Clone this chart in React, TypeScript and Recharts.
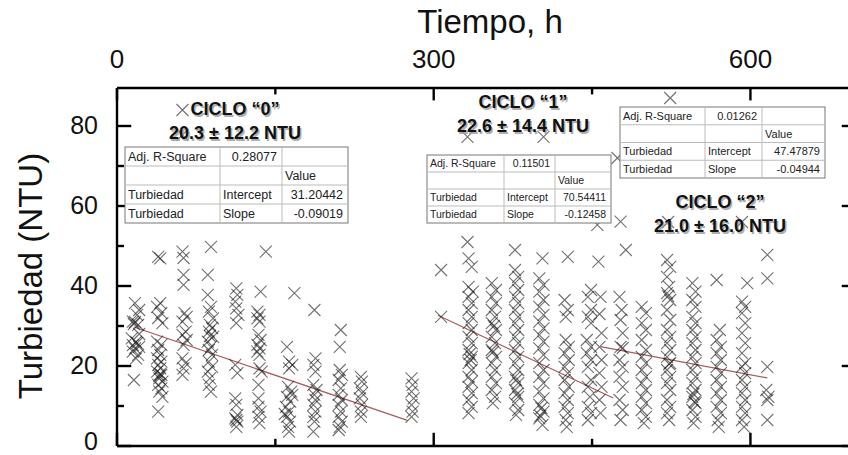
import { ScatterChart, Scatter, XAxis, YAxis, ReferenceLine } from "recharts";

type Pt = [number, number];

// Turbiedad (NTU) vs tiempo (h)
const cycle0: Pt[] = [
  [17, 35.7], [21, 34.0], [19, 32.8], [15, 31.1], [17, 31.0], [16, 30.5], [20, 30.3], [21, 28.0], [14, 26.9], [18, 26.0],
  [19, 25.7], [15, 25.2], [21, 24.8], [17, 24.4], [15, 23.6], [20, 22.8], [18, 21.9], [16, 16.5],
  [39, 47.3], [41, 46.9], [41, 35.7], [38, 34.8], [42, 33.2], [39, 32.0], [43, 30.7], [38, 26.1], [42, 25.3], [39, 24.0],
  [41, 22.8], [38, 21.9], [42, 21.1], [39, 20.3], [41, 19.4], [38, 18.6], [41, 18.0], [42, 17.8], [40, 17.5], [40, 16.9],
  [43, 16.1], [39, 15.3], [42, 14.4], [40, 13.6], [43, 12.3], [39, 8.6],
  [62, 84.0], [62, 77.8],
  [62, 48.6], [63, 47.0], [63, 42.8], [63, 40.3], [64, 33.2], [66, 32.3], [62, 31.1], [65, 28.6], [62, 27.8], [66, 26.5],
  [63, 25.3], [62, 21.9], [65, 20.7], [63, 19.4], [62, 17.8],
  [89, 49.8], [86, 42.8], [86, 37.8], [89, 34.8], [87, 33.6], [91, 31.9], [88, 30.3], [90, 29.5], [87, 28.6], [88, 27.5],
  [91, 27.3], [86, 26.1], [89, 24.8], [87, 24.0], [90, 22.8], [87, 21.1], [90, 19.8], [86, 18.6], [88, 16.9], [87, 15.3],
  [89, 13.6],
  [113, 39.4], [114, 37.8], [112, 36.1], [113, 34.4], [115, 32.8], [113, 30.7], [112, 20.3], [114, 18.2], [112, 11.9],
  [113, 10.3], [114, 7.8], [112, 6.9], [113, 6.5], [114, 6.1], [113, 4.8],
  [141, 48.6], [136, 38.6], [133, 33.6], [135, 32.8], [133, 31.9], [135, 31.1], [134, 27.8], [136, 26.5], [133, 25.3],
  [135, 24.4], [133, 23.6], [135, 22.8], [135, 19.4], [137, 18.6], [134, 15.3], [134, 11.9], [134, 9.8], [136, 8.6],
  [134, 7.3], [135, 5.7],
  [168, 38.2], [161, 24.8], [163, 21.1], [166, 20.3], [163, 19.4], [162, 14.8], [165, 13.6], [166, 12.8], [161, 12.3],
  [164, 11.1], [160, 9.8], [163, 8.6], [159, 8.0], [161, 7.3], [164, 6.1], [162, 4.8], [163, 3.6],
  [187, 34.0], [188, 21.9], [186, 20.3], [188, 18.6], [186, 15.3], [189, 14.0], [187, 12.8], [188, 11.5], [186, 10.3],
  [188, 8.6], [186, 7.3], [187, 6.1], [186, 3.6],
  [212, 29.0], [211, 24.8], [211, 19.0], [213, 17.8], [210, 16.5], [212, 14.4], [210, 12.8], [213, 11.5], [210, 10.3],
  [212, 8.6], [210, 7.3], [213, 6.1], [211, 4.8], [210, 4.0],
  [231, 17.3], [232, 16.1], [230, 14.4], [232, 13.2], [230, 11.9], [232, 10.3], [231, 8.6], [231, 7.3],
  [279, 16.9], [280, 15.3], [279, 13.6], [281, 11.9], [279, 10.3], [280, 8.6], [279, 7.3],
];

const cycle1: Pt[] = [
  [307, 44.0], [307, 32.3], [332, 77.3], [404, 77.3],
  [332, 51.0], [333, 46.9], [336, 44.8], [333, 39.8], [337, 38.6], [333, 37.3], [336, 35.7], [333, 34.0], [336, 32.3],
  [333, 30.7], [336, 29.0], [333, 27.3], [336, 25.7], [333, 24.0], [334, 23.0], [336, 22.3], [335, 21.5], [333, 20.7],
  [336, 19.0], [333, 17.3], [336, 16.1], [333, 14.8], [336, 13.2], [333, 11.5], [336, 9.8], [333, 8.2],
  [355, 40.7], [359, 39.0], [355, 37.3], [359, 35.7], [355, 34.0], [358, 32.3], [355, 30.7], [357, 30.0], [359, 29.0],
  [355, 27.3], [358, 25.7], [355, 24.0], [356, 23.5], [359, 22.3], [355, 20.7], [358, 19.0], [355, 17.3], [359, 15.7],
  [355, 14.0], [358, 12.3], [356, 10.7],
  [377, 49.0], [377, 44.0], [380, 42.3], [377, 40.7], [380, 39.0], [377, 37.3], [380, 35.7], [377, 34.0], [380, 32.3],
  [377, 30.7], [380, 29.0], [377, 27.3], [380, 25.7], [377, 24.0], [380, 22.3], [377, 20.7], [380, 19.0], [377, 17.3],
  [378, 16.5], [380, 15.7], [377, 14.0], [379, 13.0], [380, 12.3], [377, 10.7], [380, 9.0], [378, 7.8],
  [403, 46.9], [400, 41.9], [404, 40.3], [400, 38.6], [404, 36.5], [400, 34.8], [404, 32.8], [400, 31.1], [404, 29.4],
  [400, 27.8], [404, 26.1], [400, 24.4], [404, 22.8], [400, 20.7], [404, 19.0], [400, 17.3], [404, 15.7], [400, 13.6],
  [404, 11.9], [400, 10.3], [402, 9.5], [404, 8.6], [401, 7.5], [400, 6.9], [403, 5.3],
  [427, 47.3], [424, 36.5], [427, 34.0], [425, 32.3], [425, 26.5], [428, 24.8], [424, 23.2], [428, 21.5], [424, 19.8],
  [427, 18.2], [424, 16.5], [428, 14.8], [424, 13.2], [427, 11.5], [424, 9.8], [427, 8.2], [425, 6.5], [426, 4.8],
  [455, 55.3], [456, 46.1], [449, 39.0], [446, 37.3], [458, 37.3], [449, 34.0], [457, 33.0], [446, 32.3], [449, 30.7],
  [459, 28.2], [445, 26.5], [449, 24.8], [457, 24.8], [445, 23.2], [449, 21.5], [459, 21.5], [446, 19.8], [457, 18.2],
  [449, 16.5], [446, 14.8], [459, 14.8], [448, 12.3], [457, 11.5], [446, 9.8], [449, 8.2], [458, 8.2], [446, 6.5],
];

const cycle2: Pt[] = [
  [474, 72.0], [524, 87.0], [522, 56.0], [592, 56.0],
  [477, 56.1], [482, 49.0], [476, 37.3], [478, 34.0], [477, 31.5], [479, 28.2], [477, 24.8], [479, 24.5], [476, 21.5],
  [479, 19.8], [476, 17.3], [479, 14.8], [476, 11.5], [479, 9.0], [477, 6.5],
  [497, 34.8], [501, 33.2], [497, 30.7], [501, 29.0], [497, 26.5], [501, 24.0], [497, 22.3], [501, 20.7], [497, 19.0],
  [501, 17.3], [497, 15.7], [501, 14.0], [497, 12.3], [501, 10.7], [497, 9.0], [501, 7.3], [499, 5.7],
  [521, 46.5], [524, 44.8], [521, 42.3], [523, 39.8], [521, 38.2], [522, 37.5], [524, 36.5], [521, 34.0], [524, 31.5],
  [521, 29.0], [524, 27.3], [521, 25.7], [524, 24.0], [521, 22.3], [524, 20.7], [523, 20.5], [521, 19.0], [524, 17.3],
  [521, 15.7], [524, 14.0], [521, 11.5], [524, 9.8], [521, 8.2], [523, 6.5],
  [545, 40.7], [548, 38.6], [545, 36.5], [548, 34.8], [545, 32.3], [548, 30.7], [545, 29.0], [548, 27.3], [545, 25.7],
  [548, 24.0], [545, 22.3], [548, 20.7], [545, 19.0], [548, 17.3], [545, 15.7], [548, 14.0], [546, 13.0], [545, 12.3],
  [547, 11.0], [548, 10.7], [545, 9.0], [548, 7.3], [546, 5.7],
  [568, 41.5], [571, 29.0], [568, 26.5], [572, 24.8], [568, 23.2], [572, 21.5], [568, 19.8], [572, 18.2], [568, 16.5],
  [572, 14.8], [568, 13.2], [572, 11.5], [568, 9.8], [572, 8.2], [569, 6.5], [570, 4.8],
  [597, 40.7], [592, 36.1], [595, 34.8], [592, 33.2], [595, 30.7], [592, 28.2], [595, 25.7], [592, 23.2], [595, 20.7],
  [592, 19.8], [595, 18.2], [592, 16.5], [595, 14.8], [592, 13.2], [595, 11.5], [592, 9.8], [595, 8.2], [592, 6.5],
  [594, 4.8],
  [616, 47.8], [616, 41.9], [616, 19.8], [615, 14.0], [617, 12.3], [616, 11.5], [616, 6.5],
];

// ajustes lineales por ciclo
const fitIntercepts = [31.20442, 70.54411, 47.47879];
const fitSlopes = [-0.09019, -0.12458, -0.04944];
const fitR2 = ["0.28077", "0.11501", "0.01262"];
const fitRanges: Pt[] = [[16, 275], [304, 470], [458, 616]];

const cycleMeans = [20.3, 22.6, 21.0];
const cycleSds = [12.2, 14.4, 16.0];

const X_MAX = 700;
const Y_MAX = 89.5;
const xTicks = [0, 150, 300, 450, 600];
const xLabels = [0, 300, 600];
const yTicks = [0, 10, 20, 30, 40, 50, 60, 70, 80];
const yLabels = [0, 20, 40, 60, 80];

const FONT = '"Liberation Sans", Arial, Helvetica, sans-serif';
const cycles = [cycle0, cycle1, cycle2].map((c) => c.map(([x, y]) => ({ x, y })));

// marcas de eje hacia dentro, en unidades de datos (4 px por NTU, ~1.056 px por h)
const xTickLen = (v: number) => (xLabels.includes(v) ? 3.1 : 1.6);
const yTickLen = (v: number) => (yLabels.includes(v) ? 13.5 : 6.6);

const frame = { xAxisId: "top", yAxisId: "left", stroke: "#000", strokeWidth: 2.4, ifOverflow: "visible" as const };

function XMark(props: any) {
  const cx = Number(props.cx);
  const cy = Number(props.cy);
  if (!isFinite(cx) || !isFinite(cy)) return <g />;
  const s = 6;
  return (
    <path
      d={`M${cx - s},${cy - s}L${cx + s},${cy + s}M${cx + s},${cy - s}L${cx - s},${cy + s}`}
      stroke="#1a1a1a"
      strokeOpacity={0.62}
      strokeWidth={1.1}
      fill="none"
    />
  );
}

function TopLabel(props: any) {
  const v = Number(props.payload.value);
  if (!xLabels.includes(v)) return <g />;
  return (
    <text x={Number(props.x)} y={Number(props.y) - 20} textAnchor="middle" fontSize={26} fill="#111" fontFamily={FONT}>
      {v}
    </text>
  );
}

function LeftLabel(props: any) {
  const v = Number(props.payload.value);
  if (!yLabels.includes(v)) return <g />;
  const y = Number(props.y) - (v === 0 ? 5 : 1);
  return (
    <text x={Number(props.x) - 19} y={y} dy="0.35em" textAnchor="end" fontSize={25} fill="#111" fontFamily={FONT}>
      {v}
    </text>
  );
}

function FitTable({ x, y, cols, rowH, fontSize, i }: any) {
  const rows = [
    ["Adj. R-Square", fitR2[i], ""],
    ["", "", "Value"],
    ["Turbiedad", "Intercept", fitIntercepts[i].toFixed(5)],
    ["Turbiedad", "Slope", fitSlopes[i].toFixed(5)],
  ];
  const w = cols[0] + cols[1] + cols[2];
  const h = rowH * 4;
  const cx = [x, x + cols[0], x + cols[0] + cols[1], x + w];
  return (
    <g fontFamily={FONT} fontSize={fontSize} fill="#222">
      <rect x={x} y={y} width={w} height={h} fill="#fff" stroke="#777" strokeWidth={1} />
      {[1, 2, 3].map((r) => (
        <line key={r} x1={x} x2={x + w} y1={y + r * rowH} y2={y + r * rowH} stroke="#bbb" strokeWidth={1} />
      ))}
      {[1, 2].map((c) => (
        <line key={c} x1={cx[c]} x2={cx[c]} y1={y} y2={y + h} stroke="#bbb" strokeWidth={1} />
      ))}
      {rows.map((row, r) =>
        row.map((cell, c) => {
          if (!cell) return null;
          const numeric = /^-?\d/.test(cell);
          const tx = numeric ? cx[c + 1] - 5 : cx[c] + 3;
          return (
            <text
              key={`${r}-${c}`}
              x={tx}
              y={y + r * rowH + rowH / 2}
              dy="0.36em"
              textAnchor={numeric ? "end" : "start"}
            >
              {cell}
            </text>
          );
        })
      )}
    </g>
  );
}

function CycleTitle({ x, y, i }: any) {
  const lines = [`CICLO “${i}”`, `${cycleMeans[i].toFixed(1)} ± ${cycleSds[i].toFixed(1)} NTU`];
  return (
    <g fontFamily={FONT} fontWeight="bold" fontSize={18} textAnchor="middle">
      {lines.map((t, k) => (
        <text key={`s${k}`} x={x + 1.5} y={y + k * 24 + 1.5} fill="#999" fillOpacity={0.8}>
          {t}
        </text>
      ))}
      {lines.map((t, k) => (
        <text key={`t${k}`} x={x} y={y + k * 24} fill="#111">
          {t}
        </text>
      ))}
    </g>
  );
}

export default function App() {
  return (
    <div
      style={{
        position: "absolute",
        left: 0,
        top: 0,
        width: 848,
        height: 455,
        overflow: "hidden",
        background: "#fff",
      }}
    >
      <ScatterChart width={870} height={455} margin={{ top: 48, right: 14, bottom: 9, left: 57 }}>
        <XAxis
          xAxisId="top"
          orientation="top"
          type="number"
          dataKey="x"
          domain={[0, X_MAX]}
          ticks={xTicks}
          interval={0}
          height={40}
          tickSize={0}
          tickMargin={0}
          tickLine={false}
          axisLine={false}
          tick={(p: any) => <TopLabel {...p} />}
          allowDataOverflow
        />
        <YAxis
          yAxisId="left"
          orientation="left"
          type="number"
          dataKey="y"
          domain={[0, Y_MAX]}
          ticks={yTicks}
          interval={0}
          width={60}
          tickSize={0}
          tickMargin={0}
          tickLine={false}
          axisLine={false}
          tick={(p: any) => <LeftLabel {...p} />}
          allowDataOverflow
        />
        {cycles.map((data, i) => (
          <Scatter
            key={i}
            name={`Ciclo ${i}`}
            data={data}
            xAxisId="top"
            yAxisId="left"
            shape={(p: any) => <XMark {...p} />}
            isAnimationActive={false}
          />
        ))}
        {fitRanges.map(([a, b], i) => (
          <ReferenceLine
            key={`fit-${i}`}
            xAxisId="top"
            yAxisId="left"
            segment={[
              { x: a, y: fitIntercepts[i] + fitSlopes[i] * a },
              { x: b, y: fitIntercepts[i] + fitSlopes[i] * b },
            ]}
            stroke="#a85c5c"
            strokeWidth={1.2}
          />
        ))}
        {/* marco */}
        <ReferenceLine {...frame} y={0} />
        <ReferenceLine {...frame} y={Y_MAX} />
        <ReferenceLine {...frame} x={0} />
        <ReferenceLine {...frame} x={X_MAX} />
        {/* marcas superiores e inferiores */}
        {xTicks.map((v) => (
          <ReferenceLine key={`tt-${v}`} {...frame} segment={[{ x: v, y: Y_MAX }, { x: v, y: Y_MAX - xTickLen(v) }]} />
        ))}
        {xTicks.map((v) => (
          <ReferenceLine key={`bt-${v}`} {...frame} segment={[{ x: v, y: 0 }, { x: v, y: xTickLen(v) + 0.2 }]} />
        ))}
        {/* marcas izquierda y derecha */}
        {yTicks.map((v) => (
          <ReferenceLine key={`lt-${v}`} {...frame} segment={[{ x: 0, y: v }, { x: yTickLen(v), y: v }]} />
        ))}
        {yTicks.map((v) => (
          <ReferenceLine key={`rt-${v}`} {...frame} segment={[{ x: X_MAX, y: v }, { x: X_MAX - yTickLen(v), y: v }]} />
        ))}
      </ScatterChart>
      <svg
        width={848}
        height={455}
        style={{ position: "absolute", left: 0, top: 0, pointerEvents: "none" }}
      >
        <text x={490} y={33} textAnchor="middle" fontSize={33} fill="#111" fontFamily={FONT}>
          Tiempo, h
        </text>
        <text
          x={42}
          y={276}
          transform="rotate(-90 42 276)"
          textAnchor="middle"
          fontSize={33}
          fill="#111"
          fontFamily={FONT}
        >
          Turbiedad (NTU)
        </text>
        <CycleTitle x={235} y={115} i={0} />
        <CycleTitle x={523} y={108} i={1} />
        <CycleTitle x={720} y={208} i={2} />
        <FitTable x={125} y={147} cols={[95, 62, 66]} rowH={19} fontSize={12.5} i={0} />
        <FitTable x={427} y={155} cols={[77, 51, 56]} rowH={17} fontSize={10.5} i={1} />
        <FitTable x={620} y={107} cols={[85, 57, 63]} rowH={17.75} fontSize={11} i={2} />
      </svg>
    </div>
  );
}
